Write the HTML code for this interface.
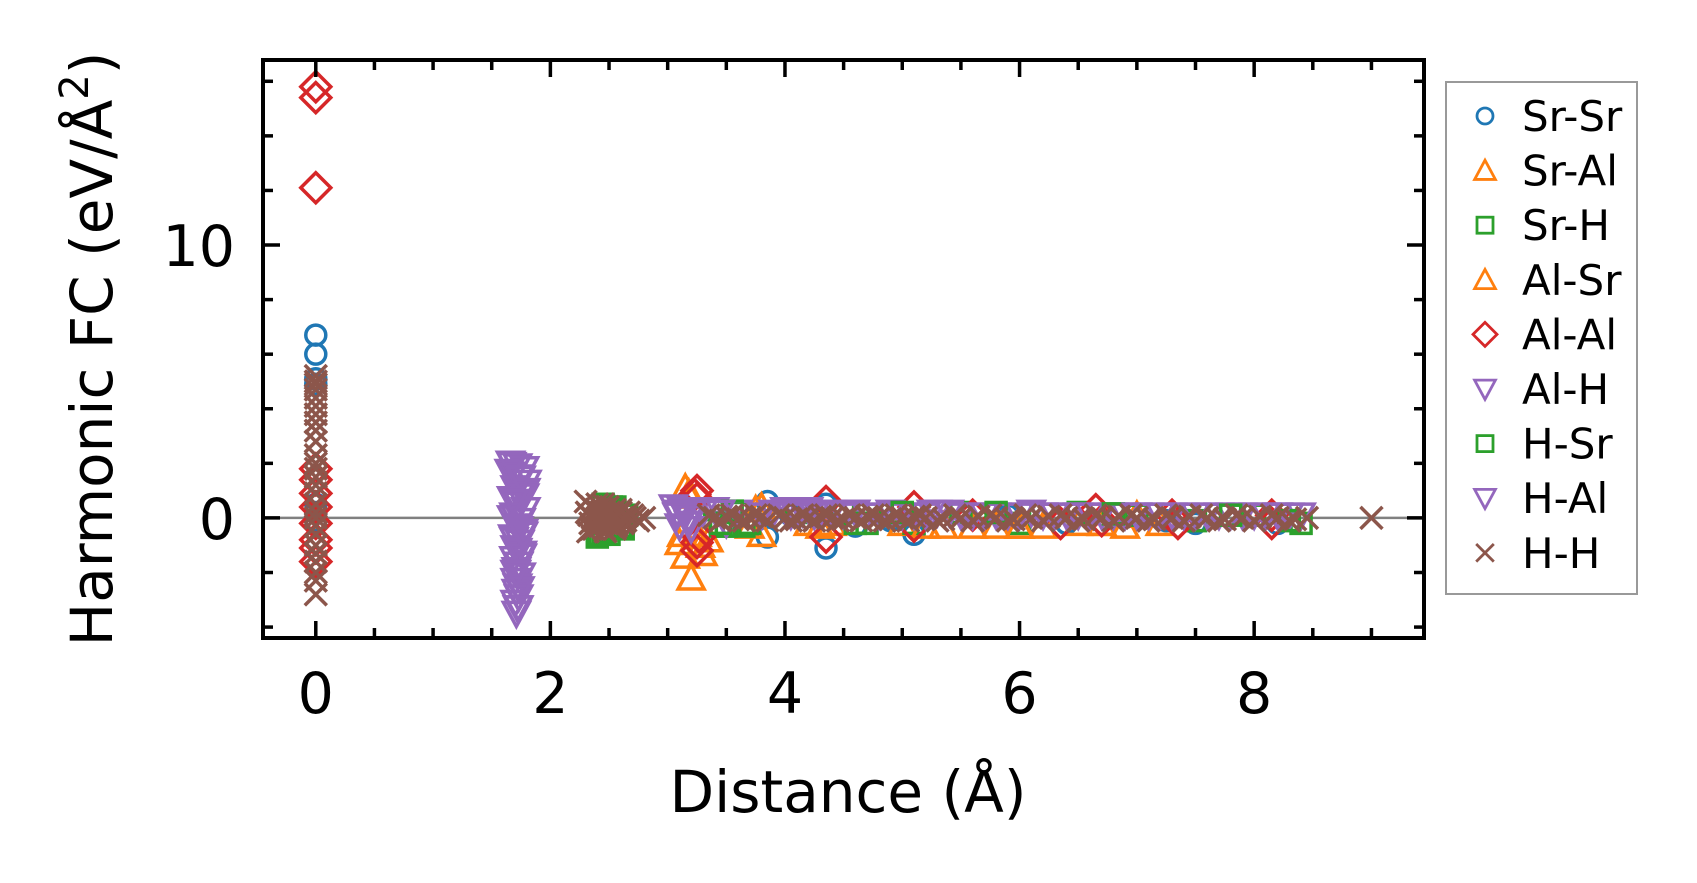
<!DOCTYPE html>
<html><head><meta charset="utf-8"><style>
html,body{margin:0;padding:0;background:#fff;}
svg{display:block;font-family:"DejaVu Sans","Liberation Sans",sans-serif;}
</style></head><body>
<svg id="chart" width="1697" height="883" viewBox="0 0 1697 883" xmlns="http://www.w3.org/2000/svg">
<rect width="1697" height="883" fill="#fff"/>
<g id="marks"></g>
<g id="axes"></g>
<g id="legend"></g>
<text x="848" y="812" font-size="58" text-anchor="middle">Distance (Å)</text>
<text transform="translate(112,349) rotate(-90)" font-size="58" text-anchor="middle">Harmonic FC (eV/Å<tspan font-size="40" dy="-24">2</tspan><tspan dy="24">)</tspan></text>
</svg>
<script>
const xTicksMajor = [0, 2, 4, 6, 8];
const yTicksMajor = [0, 10];
const seriesNames = ["Sr-Sr","Sr-Al","Sr-H","Al-Sr","Al-Al","Al-H","H-Sr","H-Al","H-H"];
const seriesColors = ["#1f77b4","#ff7f0e","#2ca02c","#ff7f0e","#d62728","#9467bd","#2ca02c","#9467bd","#8c564b"];
const seriesMarkers = ["o","^","s","^","D","v","s","v","x"];

const srsrX = [0,0,0,0,0,0,0,3.85,3.85,4.35,4.35,4.6,5.1,5.9,6.4,7.25,7.5,8.2,4.05,4.9];
const srsrY = [6.7,6.0,5.1,4.9,0.5,-0.1,0.2,0.6,-0.7,0.5,-1.1,-0.3,-0.6,0.1,-0.2,-0.1,-0.2,-0.2,0.1,-0.1];
const sralX = [3.15,3.15,3.2,3.3,3.2,3.25,3.8,3.8,3.7,4.4,5.35,5.8,6.2,6.9,7.0,3.1,3.35,4.2,5.0,6.5,5.6,6.0,6.7];
const sralY = [1.1,-1.4,-2.2,-1.3,0.8,-0.6,-0.6,0.4,-0.3,-0.2,-0.3,-0.3,-0.3,-0.3,0.1,-0.9,-0.8,-0.2,-0.2,-0.2,-0.3,-0.3,-0.2];
const srhX = [2.4,2.45,2.5,2.55,2.6,2.45,2.5,2.55,2.65,2.62,3.4,3.5,3.6,3.7,4.5,4.7,4.9,5.1,5.5,6.0,6.5,7.0,7.5,8.0,8.4,4.1,3.45,3.65];
const srhY = [-0.7,0.5,-0.6,0.4,-0.3,-0.5,0.3,0.2,0.1,-0.4,0.3,-0.3,0.2,-0.2,0.2,-0.2,0.2,-0.2,0.2,-0.2,0.2,0.1,-0.1,0.1,-0.2,0.2,-0.3,-0.3];
const alsrX = [3.18,3.28,3.12,3.75,4.3,5.2,6.0,6.7,7.2];
const alsrY = [0.9,-1.0,-0.6,0.3,-0.3,-0.3,-0.3,-0.2,-0.2];
const alalX = [0,0,0,0,0,0,0,0,0,0,0,3.25,3.25,3.25,3.25,3.27,3.23,4.35,4.35,5.1,5.1,5.6,6.35,6.65,6.7,7.35,8.15,8.15,7.3];
const alalY = [15.8,15.4,12.1,1.8,1.4,0.4,-0.2,-0.8,-1.6,-1.1,0.9,1.0,0.7,-0.9,-1.2,-0.7,0.85,0.6,-0.7,0.4,-0.3,0.1,-0.2,0.3,-0.1,-0.2,0.1,-0.2,0.1];
const alhX = [1.66,1.72,1.78,1.68,1.74,1.80,1.70,1.76,1.67,1.73,1.79,1.69,1.75,1.71,1.77,1.68,1.74,1.70,1.76,1.69,1.73,1.71,1.75,1.70,1.72,1.71,1.73,1.70,1.72,1.71,
  1.65,1.79,1.67,1.78,1.69,1.76,1.70,1.74,1.72,1.73,
  3.05,3.1,3.15,3.2,3.3,3.4,3.5,3.6,3.8,3.9,4.0,4.1,4.2,4.3,4.5,4.8,5.0,5.2,5.3,5.4,5.6,5.8,6.0,6.3,6.6,6.9,7.2,7.5,7.8,8.1,8.4,
  3.08,3.12,3.18,4.05,4.15,4.25,4.4,4.6,4.7,4.9,5.1,5.5,5.7,5.9,6.1,6.2,6.4,6.5,6.7,6.8,7.0,7.1,7.3,7.4,7.6,7.7,7.9,8.0,8.2,8.3];
const alhY = [2.0,1.9,1.8,1.6,1.5,1.3,1.1,0.9,0.7,0.5,0.3,0.1,-0.1,-0.3,-0.5,-0.7,-0.9,-1.1,-1.3,-1.5,-1.7,-1.9,-2.1,-2.3,-2.5,-2.7,-2.9,-3.1,-3.3,-3.5,
  1.7,1.0,0.0,0.8,-0.8,-1.4,-2.0,-2.6,-1.2,-0.4,
  0.4,-0.3,0.3,-0.4,0.2,0.3,-0.2,0.2,0.1,0.2,0.3,0.2,0.3,0.2,0.1,0.1,0.1,0.1,0.2,0.2,0.1,0.1,0.1,0.1,0.1,0.1,0.1,0.1,0.1,0.1,0.1,
  0.1,0.3,0.0,0.1,0.3,0.1,0.2,0.2,0.1,0.2,0.1,0.1,0.1,0.1,0.2,0.1,0.1,0.1,0.1,0.1,0.1,0.1,0.1,0.1,0.1,0.1,0.1,0.1,0.1,0.1];
const hsrX = [2.42,2.52,2.62,3.45,3.55,4.6,5.0,5.8,6.8,7.8,8.3];
const hsrY = [-0.6,0.4,-0.4,-0.2,0.25,-0.2,0.2,0.2,0.15,0.1,-0.1];
const halX = [1.67,1.75,1.69,1.77,1.71,1.73,3.08,3.18,3.45,4.15,4.6,5.25,6.2,7.0,8.2];
const halY = [1.95,1.45,0.6,-0.6,-2.0,-3.3,0.2,-0.2,0.2,0.2,0.2,0.2,0.1,0.1,0.1];
const hhX = [0,0,0,0,0,0,0,0,0,0,0,0,0,0,0,0,0,0,0,0,0,0,0,0,0,0,0,
  2.3,2.32,2.35,2.37,2.4,2.42,2.45,2.47,2.5,2.52,2.55,2.57,2.6,2.62,2.65,2.7,2.75,2.8,2.33,2.38,2.43,2.48,2.53,
  2.31,2.34,2.36,2.39,2.41,2.44,2.46,2.49,2.51,2.54,2.56,2.59,2.61,2.64,2.67,2.72,2.35,2.45,2.55,2.4,2.5,2.6,
  3.35,3.45,3.55,3.65,3.75,3.85,3.95,4.05,4.15,4.25,4.35,4.45,4.55,4.65,4.75,4.85,4.95,5.05,5.15,5.3,5.45,5.6,5.75,5.9,6.05,6.2,6.35,6.5,6.65,6.8,6.95,7.1,7.25,7.4,7.55,7.7,7.85,8.0,8.15,8.3,8.45,9.0,
  3.4,3.5,3.6,3.7,3.8,4.0,4.1,4.2,4.3,4.4,4.5,4.6,4.7,4.8,4.9,5.0,5.1,5.2,5.35,5.5,5.65,5.8,5.95,6.1,6.25,6.4,6.55,6.7,6.85,7.0,7.15,7.3,7.45,7.6,7.75,7.9,8.05,8.2,8.35];
const hhY = [5.2,5.0,4.9,4.7,4.4,4.1,3.8,3.5,3.2,2.8,2.3,2.0,1.8,1.5,1.2,0.9,0.5,0.2,0.0,-0.3,-0.6,-1.0,-1.3,-1.6,-2.0,-2.3,-2.8,
  0.6,-0.5,0.4,-0.4,0.5,-0.3,0.3,-0.5,0.2,-0.3,0.3,-0.2,0.2,-0.2,0.1,0.1,-0.1,0.0,0.1,-0.1,0.2,-0.2,0.1,
  0.2,-0.2,0.0,0.3,-0.1,0.1,-0.4,0.4,0.0,0.1,-0.3,0.2,0.0,-0.1,0.2,0.0,-0.4,0.5,-0.4,0.0,-0.2,0.3,
  0.1,-0.1,0.1,-0.1,0.1,-0.1,0.1,-0.1,0.1,-0.1,0.1,-0.1,0.1,-0.1,0.1,-0.1,0.1,-0.1,0.1,-0.1,0.1,-0.1,0.1,-0.1,0.1,-0.1,0.1,-0.1,0.1,-0.1,0.1,-0.1,0.1,-0.1,0.1,-0.1,0.1,-0.1,0.1,-0.1,0.0,0.0,
  0.0,0.05,-0.05,0.0,0.05,0.0,-0.05,0.0,0.05,0.0,-0.05,0.0,0.05,0.0,-0.05,0.0,0.05,0.0,-0.05,0.0,0.05,0.0,-0.05,0.0,0.05,0.0,-0.05,0.0,0.05,0.0,-0.05,0.0,0.05,0.0,-0.05,0.0,0.05,0.0,-0.05];

const seriesX = [srsrX, sralX, srhX, alsrX, alalX, alhX, hsrX, halX, hhX];
const seriesY = [srsrY, sralY, srhY, alsrY, alalY, alhY, hsrY, halY, hhY];

const L=263, R=1424, T=60, B=638;
const xMin=-0.45, xMax=9.448, yMin=-4.4, yMax=16.78;
const X = v => L + (v - xMin) / (xMax - xMin) * (R - L);
const Y = v => B - (v - yMin) / (yMax - yMin) * (B - T);
const NS = "http://www.w3.org/2000/svg";
function mk(tag, attrs, parent){const e=document.createElementNS(NS,tag);for(const k in attrs)e.setAttribute(k,attrs[k]);parent.appendChild(e);return e;}

function marker(type, cx, cy, color, parent, scale, sw){
  const s = scale||1; let e;
  if(type==="o"){e=mk("circle",{cx:cx,cy:cy,r:10*s},parent);}
  else if(type==="^"){const h=13*s;e=mk("polygon",{points:`${cx},${cy-h} ${cx+h},${cy+h*0.85} ${cx-h},${cy+h*0.85}`},parent);}
  else if(type==="v"){const h=13*s;e=mk("polygon",{points:`${cx},${cy+h} ${cx+h},${cy-h*0.85} ${cx-h},${cy-h*0.85}`},parent);}
  else if(type==="s"){const h=10*s;e=mk("rect",{x:cx-h,y:cy-h,width:2*h,height:2*h},parent);}
  else if(type==="D"){const h=15*s;e=mk("polygon",{points:`${cx},${cy-h} ${cx+h},${cy} ${cx},${cy+h} ${cx-h},${cy}`},parent);}
  else {const h=11*s;e=mk("path",{d:`M${cx-h},${cy-h}L${cx+h},${cy+h}M${cx-h},${cy+h}L${cx+h},${cy-h}`},parent);}
  e.setAttribute("fill","none");e.setAttribute("stroke",color);e.setAttribute("stroke-width",sw||3.5);
  return e;
}

const marks=document.getElementById("marks");
const zl=mk("line",{x1:L,x2:R,y1:Y(0),y2:Y(0),stroke:"#808080","stroke-width":2.5},marks);


seriesNames.forEach((n,i)=>{
  const g=mk("g",{},marks);
  
  
  seriesX[i].forEach((xv,j)=>{
    const m=marker(seriesMarkers[i],X(xv),Y(seriesY[i][j]),seriesColors[i],g);
    
    
  });
});

const axes=document.getElementById("axes");
const frame=mk("rect",{x:L,y:T,width:R-L,height:B-T,fill:"none",stroke:"#000","stroke-width":4},axes);


for(let k=-1;k<=19;k++){const v=k*0.5;if(X(v)<L+2||X(v)>R-2)continue;const major=(k%4===0);const len=major?17:10;
  mk("line",{x1:X(v),x2:X(v),y1:B,y2:B-len,stroke:"#000","stroke-width":3.5},axes);
  mk("line",{x1:X(v),x2:X(v),y1:T,y2:T+len,stroke:"#000","stroke-width":3.5},axes);}
for(let v=-4;v<=16;v+=2){const major=(v%10===0);const len=major?17:10;
  mk("line",{y1:Y(v),y2:Y(v),x1:L,x2:L+len,stroke:"#000","stroke-width":3.5},axes);
  mk("line",{y1:Y(v),y2:Y(v),x1:R,x2:R-len,stroke:"#000","stroke-width":3.5},axes);}
xTicksMajor.forEach(v=>{const t=mk("text",{x:X(v),y:713,"font-size":57,"text-anchor":"middle"},axes);t.textContent=v;
  
  });
yTicksMajor.forEach(v=>{const t=mk("text",{x:235,y:Y(v)+21,"font-size":57,"text-anchor":"end"},axes);t.textContent=v;
  
  });

const leg=document.getElementById("legend");
mk("rect",{x:1446,y:82,width:191,height:512,fill:"#fff",stroke:"#999","stroke-width":2},leg);
seriesNames.forEach((n,i)=>{
  const cy=116+i*54.6;
  const g=mk("g",{},leg);
  
  
  marker(seriesMarkers[i],1485,cy,seriesColors[i],g,0.8,2.8);
  const t=mk("text",{x:1522,y:cy+15,"font-size":42},g);t.textContent=n;
});
</script>
</body></html>
